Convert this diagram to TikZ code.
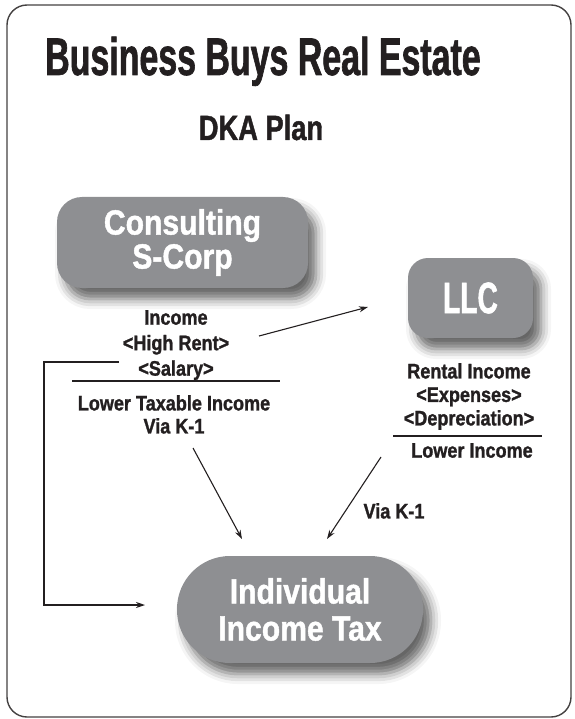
\documentclass[tikz,border=0pt]{standalone}
\usepackage{fontspec}
\setmainfont{Liberation Sans}[FakeStretch=0.86, BoldFeatures={FakeBold=1.2}]
\newfontfamily\titlefont{Liberation Sans}[FakeStretch=0.64, BoldFeatures={FakeBold=1.2}]
\newfontfamily\subfont{Liberation Sans}[FakeStretch=0.78, BoldFeatures={FakeBold=1.2}]
\usetikzlibrary{arrows.meta,shadows.blur}
\definecolor{boxgray}{RGB}{142,143,146}
\definecolor{ink}{RGB}{35,31,32}

\tikzstyle{entity}=[fill=boxgray, text=white, align=center, inner sep=0pt,
  font=\bfseries\fontsize{35}{34}\selectfont,
  blur shadow={shadow xshift=8pt, shadow yshift=-11pt, shadow blur radius=10pt, shadow opacity=60}]
\tikzstyle{note}=[text=ink, align=center, anchor=north, inner sep=0pt,
  font=\bfseries\fontsize{21}{24}\selectfont]
\tikzstyle{flow}=[-{Stealth[length=9pt,width=6pt]}, line width=1.1pt, draw=ink]
\tikzstyle{rule}=[line width=1.3pt, draw=ink]

\begin{document}
\begin{tikzpicture}[x=1pt, y=-1pt]
  \useasboundingbox (0,0) rectangle (574,719);
  \draw[line width=1.4pt, draw=ink!85, rounded corners=20pt] (7,5) rectangle (571,717);

  % headings
  \node[text=ink, anchor=base, inner sep=0pt, font=\titlefont\bfseries\fontsize{53}{60}\selectfont]
    (title) at (263,75) {Business Buys Real Estate};
  \node[text=ink, anchor=base, inner sep=0pt, font=\subfont\bfseries\fontsize{35}{40}\selectfont]
    (plan) at (261,140) {DKA Plan};

  % entities
  \node[entity, rounded corners=25pt, minimum width=251pt, minimum height=91pt]
    (scorp) at (182.5,242.5) {Consulting\\S-Corp};
  \node[entity, rounded corners=20pt, minimum width=125pt, minimum height=80pt,
    font=\titlefont\bfseries\fontsize{44}{44}\selectfont]
    (llc) at (470.5,298) {LLC};
  \node[entity, rounded corners=53pt, minimum width=246pt, minimum height=107pt, font=\bfseries\fontsize{35}{37}\selectfont]
    (indiv) at (300,609.5) {Individual\\Income Tax};

  % figures under the boxes
  \node[note, font=\bfseries\fontsize{21}{25.5}\selectfont] (income) at (176,310) {Income\\<High Rent>\\<Salary>};
  \draw[rule] (72,381) -- (280,381);
  \node[note, font=\bfseries\fontsize{21}{23}\selectfont] (lowtax) at (174,395) {Lower Taxable Income\\Via K-1};
  \node[note, font=\bfseries\fontsize{21}{23.5}\selectfont] (rental) at (469,363) {Rental Income\\<Expenses>\\<Depreciation>};
  \draw[rule] (393,436) -- (542,436);
  \node[note] (lowinc) at (472,443) {Lower Income};
  \node[note] (viak) at (394,503) {Via K-1};

  % connectors
  \coordinate (rentout) at (259,336);
  \coordinate (rentin) at (368,307);
  \coordinate (k1a) at (193,448);
  \coordinate (k1aend) at (242,539);
  \coordinate (k1b) at (381,457);
  \coordinate (k1bend) at (327,539);
  \coordinate (salary) at (119,362);
  \coordinate (corner) at (44,605);
  \coordinate (salaryend) at (145,605);
  \draw[flow] (rentout) -- (rentin);
  \draw[flow] (k1a) -- (k1aend);
  \draw[flow] (k1b) -- (k1bend);
  \draw[flow] (salary) -| (corner) -- (salaryend);
\end{tikzpicture}
\end{document}
